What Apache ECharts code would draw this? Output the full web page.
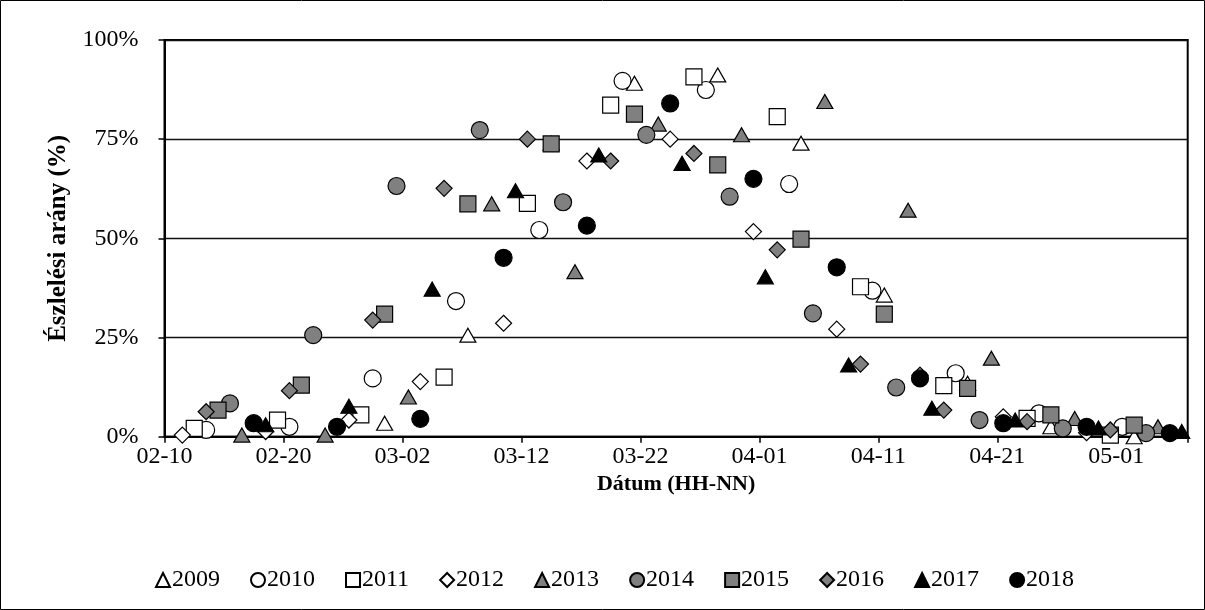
<!DOCTYPE html>
<html>
<head>
<meta charset="utf-8">
<script src="https://cdn.jsdelivr.net/npm/echarts@6/dist/echarts.min.js"></script>
<style>
  html, body { margin: 0; padding: 0; background: #fff; }
  #chart { width: 1205px; height: 610px; }
</style>
</head>
<body>
<div id="chart"></div>
<script>
// observation dates (HH-NN) and detection rate (%) per year
const d2009 = ['02-28', '03-07', '03-14', '03-21', '03-28', '04-04', '04-11', '04-18', '04-25', '05-02']
const v2009 = [3.4, 25.6, 74, 89.1, 91.2, 74.0, 35.7, 13.5, 2.5, 0]

const d2010 = ['02-13', '02-20', '02-27', '03-06', '03-13', '03-20', '03-27', '04-03', '04-10', '04-17', '04-24', '05-01']
const v2010 = [1.7, 2.5, 14.7, 34.2, 52.1, 89.7, 87.4, 63.7, 36.8, 16.0, 5.9, 2.5]

const d2011 = ['02-12', '02-19', '02-26', '03-05', '03-12', '03-19', '03-26', '04-02', '04-09', '04-16', '04-23', '04-30']
const v2011 = [2.1, 4.2, 5.5, 15.0, 58.8, 83.6, 90.7, 80.7, 37.8, 12.9, 4.6, 0.4]

const d2012 = ['02-11', '02-18', '02-25', '03-03', '03-10', '03-17', '03-24', '03-31', '04-07', '04-14', '04-21', '04-28']
const v2012 = [0.4, 1.3, 4.2, 13.9, 28.6, 69.5, 75.0, 51.7, 27.1, 15.5, 5.0, 1.0]

const d2013 = ['02-16', '02-23', '03-02', '03-09', '03-16', '03-23', '03-30', '04-06', '04-13', '04-20', '04-27', '05-04']
const v2013 = [0.4, 0.4, 10.0, 58.7, 41.6, 78.8, 76.1, 84.5, 57.1, 19.8, 4.6, 2.5]

const d2014 = ['02-15', '02-22', '03-01', '03-08', '03-15', '03-22', '03-29', '04-05', '04-12', '04-19', '04-26', '05-03']
const v2014 = [8.4, 25.6, 63.2, 77.3, 59.1, 76.1, 60.5, 31.1, 12.4, 4.2, 2.1, 0.9]

const d2015 = ['02-14', '02-21', '02-28', '03-07', '03-14', '03-21', '03-28', '04-04', '04-11', '04-18', '04-25', '05-02']
const v2015 = [6.7, 13.0, 30.9, 58.7, 73.8, 81.3, 68.5, 49.8, 30.9, 12.2, 5.5, 2.9]

const d2016 = ['02-13', '02-20', '02-27', '03-05', '03-12', '03-19', '03-26', '04-02', '04-09', '04-16', '04-23', '04-30']
const v2016 = [6.3, 11.6, 29.4, 62.6, 75.0, 69.5, 71.4, 47.1, 18.3, 6.7, 3.8, 1.7]

const d2017 = ['02-18', '02-25', '03-04', '03-11', '03-18', '03-25', '04-01', '04-08', '04-15', '04-22', '04-29', '05-06']
const v2017 = [3.0, 7.7, 37.2, 62.0, 71.0, 68.9, 40.3, 18.1, 7.2, 4.2, 2.2, 1.3]

const d2018 = ['02-17', '02-24', '03-03', '03-10', '03-17', '03-24', '03-31', '04-07', '04-14', '04-21', '04-28', '05-05']
const v2018 = [3.4, 2.5, 4.5, 45.1, 53.2, 84.0, 65.0, 42.7, 14.7, 3.4, 2.5, 0.9]

const years = ['2009', '2010', '2011', '2012', '2013', '2014', '2015', '2016', '2017', '2018']
const allDates = [d2009, d2010, d2011, d2012, d2013, d2014, d2015, d2016, d2017, d2018]
const allValues = [v2009, v2010, v2011, v2012, v2013, v2014, v2015, v2016, v2017, v2018]

// axis runs from 02-10 (day 0) to 05-07 (day 86), ticks every 10 days
const yTicks = [0, 25, 50, 75, 100]

const DAY = 86400000
const start = Date.UTC(2019, 1, 10)
const pad = (n) => (n < 10 ? '0' : '') + n

const toDay = (s) => {
  const [m, d] = s.split('-').map(Number)
  return (Date.UTC(2019, m - 1, d) - start) / DAY
}
const dayLabel = (v) => {
  if (v % 10 !== 0) return ''
  const t = new Date(start + v * DAY)
  return pad(t.getUTCMonth() + 1) + '-' + pad(t.getUTCDate())
}

const symbols = ['triangle', 'circle', 'rect', 'diamond']
const sizes = { triangle: [16, 14], circle: 17, rect: 16, diamond: 16 }
const fills = ['#ffffff', '#ffffff', '#ffffff', '#ffffff', '#808080', '#808080', '#808080', '#808080', '#000000', '#000000']

const font = 'Liberation Serif'

const series = years.map((y, i) => {
  const sym = symbols[i % 4]
  return {
    name: y,
    type: 'scatter',
    symbol: sym,
    symbolSize: sizes[sym],
    itemStyle: { color: fills[i], borderColor: '#000', borderWidth: 1.2, opacity: 1 },
    // points sit in the middle of their day slot
    data: allDates[i].map((d, k) => [toDay(d) + 0.5, allValues[i][k]])
  }
})

const option = {
  animation: false,
  backgroundColor: '#fff',
  textStyle: { fontFamily: font },
  grid: {
    left: 164.5,
    right: 17.3,
    top: 40,
    bottom: 173.3,
    show: true,
    borderColor: '#000',
    borderWidth: 2,
    outerBoundsMode: 'none'
  },
  legend: {
    data: years,
    left: 150,
    top: 563,
    itemWidth: 14,
    itemHeight: 14,
    itemGap: 30,
    textStyle: { fontFamily: font, fontSize: 24, color: '#000', padding: [0, 0, 0, -3] }
  },
  xAxis: {
    type: 'value',
    min: 0,
    max: 86,
    interval: 10,
    name: 'Dátum (HH-NN)',
    nameLocation: 'middle',
    nameGap: 35,
    nameTextStyle: { fontFamily: font, fontSize: 22, fontWeight: 'bold', color: '#000' },
    axisLine: { onZero: false, lineStyle: { color: '#000', width: 2 } },
    axisTick: { show: true, length: 6, lineStyle: { color: '#000', width: 1.5 } },
    axisLabel: { formatter: dayLabel, fontFamily: font, fontSize: 24, color: '#000', margin: 8 },
    splitLine: { show: false }
  },
  yAxis: {
    type: 'value',
    min: yTicks[0],
    max: yTicks[yTicks.length - 1],
    interval: 25,
    name: 'Észlelési arány (%)',
    nameLocation: 'middle',
    nameGap: 93,
    nameTextStyle: { fontFamily: font, fontSize: 25, fontWeight: 'bold', color: '#000' },
    axisLine: { show: true, lineStyle: { color: '#000', width: 2 } },
    axisTick: { show: true, length: 6, lineStyle: { color: '#000', width: 1.5 } },
    axisLabel: { formatter: '{value}%', fontFamily: font, fontSize: 24, color: '#000', margin: 26 },
    splitLine: { show: true, lineStyle: { color: '#111', width: 1.3 } }
  },
  graphic: [{
    type: 'rect',
    shape: { x: 0.5, y: 0.5, width: 1204, height: 609 },
    style: { fill: 'none', stroke: '#000', lineWidth: 1 },
    silent: true
  }],
  series
}

const chart = echarts.init(document.getElementById('chart'), null, { renderer: 'canvas' })
chart.setOption(option)
</script>
</body>
</html>
